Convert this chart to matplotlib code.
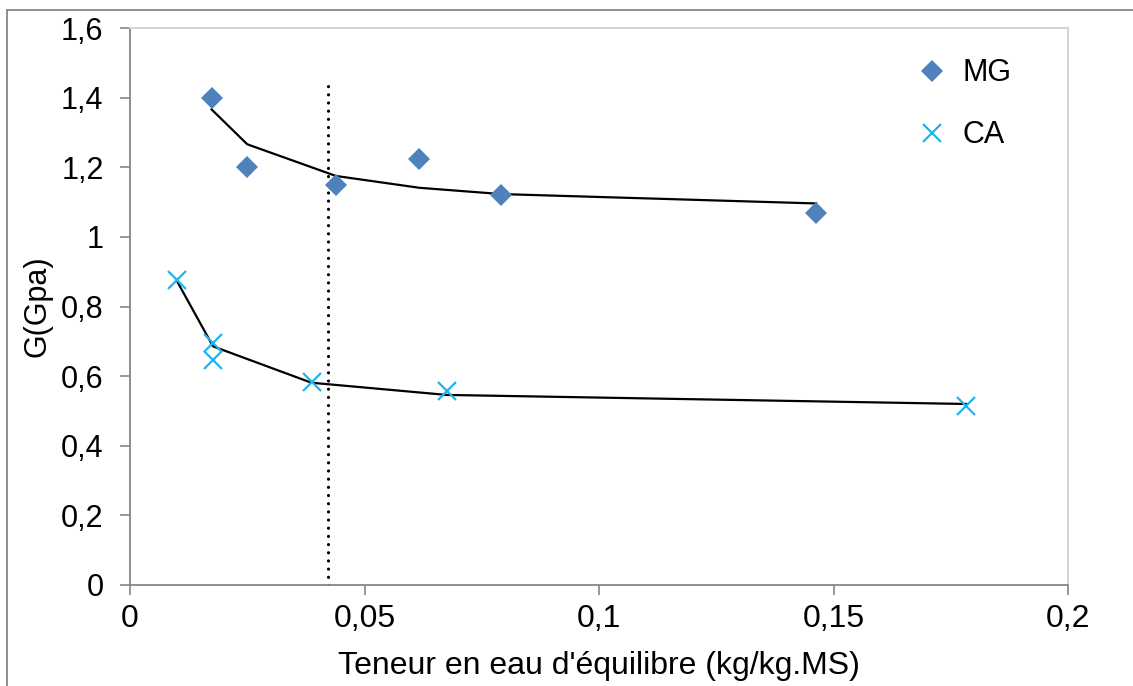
import matplotlib
matplotlib.use("Agg")
import matplotlib.pyplot as plt
from matplotlib.patches import Rectangle

plt.rcParams['font.family'] = ['Liberation Sans', 'DejaVu Sans']

# Data
mg_x = [0.0174, 0.0250, 0.0439, 0.0617, 0.0791, 0.1463]
mg_y = [1.400, 1.200, 1.149, 1.225, 1.120, 1.070]
mg_fit = [1.366, 1.266, 1.175, 1.141, 1.123, 1.096]

ca_x = [0.0101, 0.0176, 0.0178, 0.0387, 0.0675, 0.1783]
ca_y = [0.876, 0.694, 0.646, 0.584, 0.558, 0.514]
ca_fit = [0.871, 0.688, 0.685, 0.581, 0.546, 0.520]

threshold_x = 0.0422
threshold_top = 1.455

x_ticks = [0, 0.05, 0.1, 0.15, 0.2]
x_labels = ["0", "0,05", "0,1", "0,15", "0,2"]
y_ticks = [0, 0.2, 0.4, 0.6, 0.8, 1.0, 1.2, 1.4, 1.6]
y_labels = ["0", "0,2", "0,4", "0,6", "0,8", "1", "1,2", "1,4", "1,6"]

W, H = 1133, 686
FS = 22
fig = plt.figure(figsize=(W / 100, H / 100), dpi=100)
ax = fig.add_axes([130 / W, 1 - 585 / H, (1068 - 130) / W, (585 - 28) / H])

# outer chart border
fig.patches.append(Rectangle((7 / W, -0.1), 1.2, 1 - 10 / H + 0.1, transform=fig.transFigure,
                             fill=False, edgecolor='#868686', linewidth=1.3, zorder=0))

ax.plot(mg_x, mg_fit, color='black', linewidth=1.6, zorder=2)
ax.plot(ca_x, ca_fit, color='black', linewidth=1.6, zorder=2)
ax.plot([threshold_x, threshold_x], [0, threshold_top], color='black', linewidth=2.3,
        linestyle=(0, (0.01, 2.55)), dash_capstyle='round', zorder=2)

ax.plot(mg_x, mg_y, linestyle='none', marker='D', markersize=11, color='#4F81BD',
        markeredgewidth=0, label='MG', zorder=3)
ax.plot(ca_x, ca_y, linestyle='none', marker='x', markersize=13, color='#1FB5EC',
        markeredgewidth=1.6, label='CA', zorder=3)

ax.set_xlim(0, 0.2)
ax.set_ylim(0, 1.6)
ax.set_xticks(x_ticks)
ax.set_xticklabels(x_labels)
ax.set_yticks(y_ticks)
ax.set_yticklabels(y_labels)
ax.tick_params(axis='both', direction='out', length=7, width=1.2, color='#868686',
               labelsize=FS, labelcolor='black')
ax.tick_params(axis='x', pad=7, labelsize=23)
ax.tick_params(axis='y', pad=12)

for s in ['left', 'bottom']:
    ax.spines[s].set_color('#868686')
    ax.spines[s].set_linewidth(1.3)
for s in ['top', 'right']:
    ax.spines[s].set_color('#D0D0D0')
    ax.spines[s].set_linewidth(1.3)

ax.set_xlabel("Teneur en eau d'équilibre (kg/kg.MS)", fontsize=23, labelpad=12)
ax.set_ylabel("G(Gpa)", fontsize=FS, labelpad=6)

ax.legend(loc='upper left', bbox_to_anchor=(0.806, 0.995), frameon=False, fontsize=FS,
          labelspacing=1.05, handletextpad=0.4, handlelength=1.2)

fig.savefig("out.png", dpi=100)
